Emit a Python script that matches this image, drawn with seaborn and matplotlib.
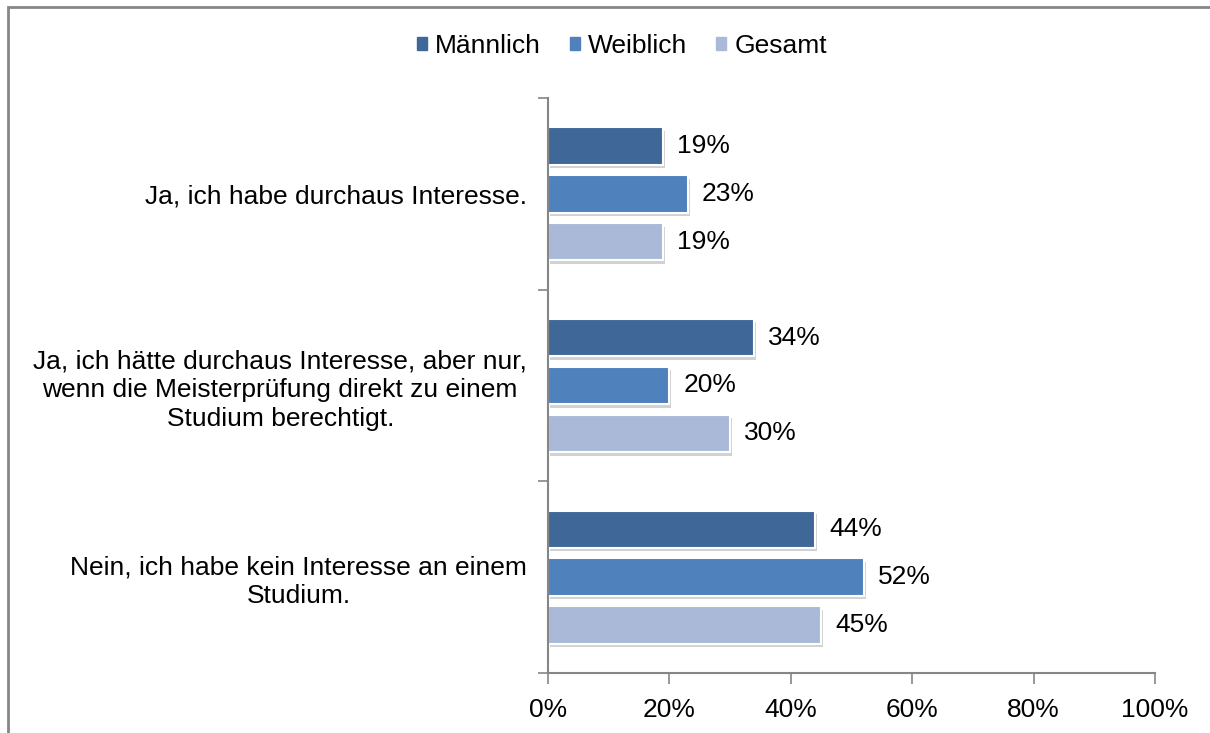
import pandas as pd
import matplotlib
matplotlib.use("Agg")
import matplotlib.pyplot as plt
import matplotlib.patheffects as pe
from matplotlib.patches import Rectangle
import seaborn as sns

# data
categories = [
    "Ja, ich habe durchaus Interesse.",
    "Ja, ich hätte durchaus Interesse, aber nur,\nwenn die Meisterprüfung direkt zu einem\nStudium berechtigt.",
    "Nein, ich habe kein Interesse an einem\nStudium.",
]
groups = ["Männlich", "Weiblich", "Gesamt"]
maennlich = [19, 34, 44]
weiblich = [23, 20, 52]
gesamt = [19, 30, 45]
xticks = [0, 20, 40, 60, 80, 100]
colors = ["#3F6899", "#4F81BD", "#AAB9D8"]

df = pd.DataFrame({
    "Kategorie": categories * 3,
    "Gruppe": [g for g in groups for _ in categories],
    "Wert": maennlich + weiblich + gesamt,
})

sns.set_style("white")
plt.rcParams["font.family"] = ["Liberation Sans", "DejaVu Sans"]
plt.rcParams["text.color"] = "black"
plt.rcParams["xtick.labelcolor"] = "black"
plt.rcParams["ytick.labelcolor"] = "black"

fs = 19

fig = plt.figure(figsize=(12.1, 7.33), dpi=100)
ax = fig.add_axes([548 / 1210, 1 - 673 / 733, 607 / 1210, 575 / 733])

sns.barplot(data=df, y="Kategorie", x="Wert", hue="Gruppe", order=categories,
            hue_order=groups, palette=colors, saturation=1, width=0.75, gap=0.22,
            orient="h", ax=ax, edgecolor="white", linewidth=1.5,
            legend=False)

# soft drop shadow like the office chart
shadow = [pe.SimplePatchShadow(offset=(1.5, -2.5), shadow_rgbFace="#808080", alpha=0.35),
          pe.Normal()]
for p in ax.patches:
    p.set_path_effects(shadow)

for cont in ax.containers:
    ax.bar_label(cont, labels=[f"{v:.0f}%" for v in cont.datavalues],
                 padding=10, fontsize=fs, color="black")

ax.set_xlim(0, 100)
ax.set_ylim(2.5, -0.5)
ax.set_xticks(xticks)
ax.set_xticklabels([f"{t}%" for t in xticks], fontsize=fs)
ax.set_yticks([-0.5, 0.5, 1.5, 2.5], minor=False)
ax.set_yticklabels([])
ax.set_yticks([0, 1, 2], minor=True)
ax.set_yticklabels(categories, minor=True, fontsize=fs, ha="right",
                   multialignment="center", linespacing=1.25)
ax.tick_params(axis="y", which="minor", length=0, pad=15)
ax.tick_params(axis="y", which="major", length=7, width=1.2, color="#868686", left=True)
ax.tick_params(axis="x", length=8, width=1.2, color="#868686", bottom=True, pad=10)
ax.set_xlabel("")
ax.set_ylabel("")

for s in ["top", "right"]:
    ax.spines[s].set_visible(False)
for s in ["left", "bottom"]:
    ax.spines[s].set_color("#868686")
    ax.spines[s].set_linewidth(1.5)

handles = [Rectangle((0, 0), 1, 1, color=c) for c in colors]
fig.legend(handles, groups, loc="center", bbox_to_anchor=(0.514, 1 - 46 / 733),
           ncol=3, frameon=False, fontsize=fs, handlelength=0.38, handleheight=0.38,
           handletextpad=0.3, columnspacing=1.1)

fig.patches.append(Rectangle((8 / 1210, -0.05), 1.1, 1 - 7 / 733 + 0.05,
                             transform=fig.transFigure, fill=False,
                             edgecolor="#868686", linewidth=2))

fig.savefig("out.png", dpi=100)
